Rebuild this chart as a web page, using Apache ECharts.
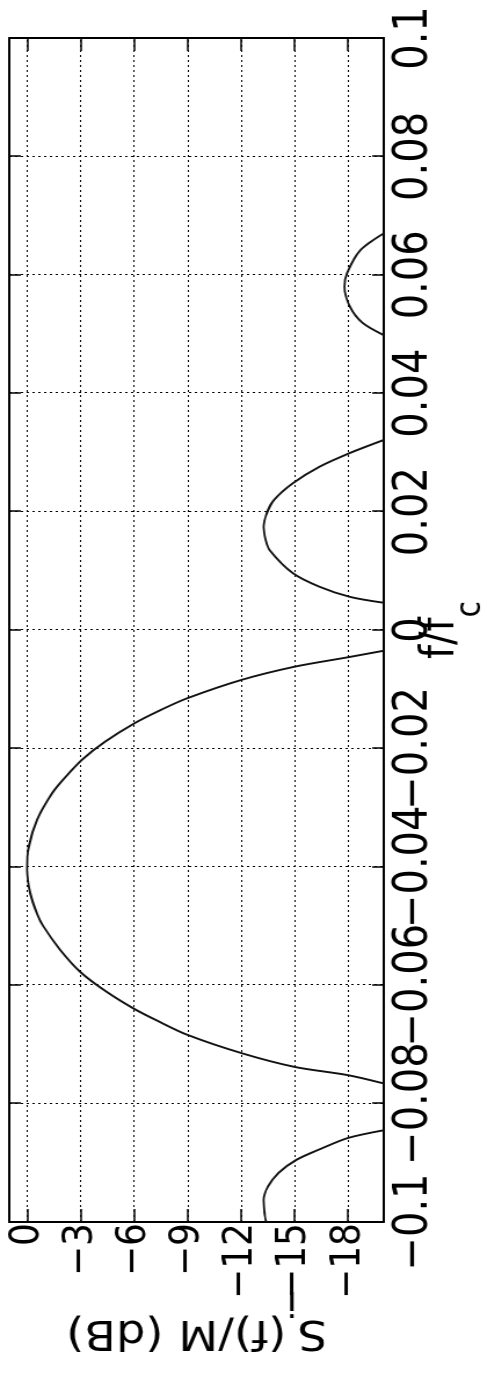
<!DOCTYPE html>
<html>
<head>
<meta charset="utf-8">
<script src="https://cdn.jsdelivr.net/npm/echarts@6/dist/echarts.min.js"></script>
<style>
  html, body { margin: 0; padding: 0; background: #fff; overflow: hidden; width: 487px; height: 1386px; }
  #page { position: absolute; left: 0; top: 0; width: 487px; height: 1386px; overflow: hidden; }
  /* the plot is laid out landscape and turned a quarter turn so f/fc runs upward */
  #chart {
    position: absolute; left: 0; top: 0;
    width: 1386px; height: 420px;
    transform-origin: 0 0;
    transform: translate(0px, 1386px) rotate(-90deg) scale(1, 1.1595);
  }
</style>
</head>
<body>
<div id="page"><div id="chart"></div></div>
<script>
// tick values of the level axis (dB)
const dbTicks = [0, -3, -6, -9, -12, -15, -18];

// spectrum lobes: [normalised frequency f/fc, level in dB]
const lobeLeft = [
  [-0.1, -13.4], [-0.0988, -13.33], [-0.0963, -13.26], [-0.094, -13.5],
  [-0.0917, -14.1], [-0.0895, -15.1], [-0.0876, -16.5], [-0.0858, -18.0], [-0.0845, -20]
];
const lobeMain = [
  [-0.0766, -20], [-0.0752, -18.0], [-0.0738, -15.0], [-0.0715, -12.05],
  [-0.0684, -9.0], [-0.066, -7.3], [-0.0639, -5.95], [-0.061, -4.4],
  [-0.0578, -3.0], [-0.054, -1.85], [-0.050, -0.9], [-0.048, -0.57],
  [-0.0444, -0.17], [-0.0405, 0], [-0.0367, -0.09], [-0.032, -0.57],
  [-0.0276, -1.4], [-0.025, -2.1], [-0.022, -3.05], [-0.0189, -4.35],
  [-0.0157, -6.05], [-0.0135, -7.5], [-0.0115, -9.0], [-0.0084, -12.05],
  [-0.0062, -15.0], [-0.0046, -18.0], [-0.0035, -20]
];
const lobeSide1 = [
  [0.0046, -20], [0.0056, -18.1], [0.0073, -16.4], [0.0096, -14.9],
  [0.0135, -13.6], [0.0152, -13.38], [0.0174, -13.26], [0.0198, -13.45],
  [0.022, -13.85], [0.0248, -14.9], [0.0276, -16.4], [0.0299, -18.1], [0.0321, -20]
];
const lobeSide2 = [
  [0.0498, -20], [0.0519, -18.8], [0.0546, -18.1], [0.058, -17.8],
  [0.0603, -17.95], [0.0642, -18.7], [0.067, -20]
];

const FONT = 'DejaVu Sans';
const INK = '#000';
const minusFmt = v => (v < 0 ? '\u2212' : '') + String(Math.abs(v));

const frameLine = { show: true, onZero: false, lineStyle: { color: INK, width: 2 } };
const gridDots = { show: true, lineStyle: { color: INK, width: 1, type: [2, 3] } };

function lobe(data) {
  return {
    type: 'line', data: data, xAxisIndex: 0, yAxisIndex: 0,
    showSymbol: false, symbol: 'none', smooth: 0.3,
    clip: true, silent: true, animation: false,
    lineStyle: { color: '#111', width: 1.9 }
  };
}

const chart = echarts.init(document.getElementById('chart'), null, { renderer: 'canvas' });
chart.setOption({
  animation: false,
  backgroundColor: '#fff',
  grid: { left: 164, right: 38, top: 8, bottom: 89, containLabel: false, outerBoundsMode: 'none' },
  xAxis: [
    {
      type: 'value', position: 'bottom', min: -0.1, max: 0.1, interval: 0.02,
      axisLine: frameLine,
      axisTick: { show: true, inside: true, length: 10, lineStyle: { color: INK, width: 1.5 } },
      axisLabel: { show: true, margin: 7, fontSize: 40, fontFamily: FONT, color: INK, formatter: minusFmt },
      splitLine: gridDots,
      name: '{m|f/f}{s|c}', nameLocation: 'middle', nameGap: 30, nameMoveOverlap: false,
      nameTextStyle: {
        fontFamily: FONT, color: INK, fontSize: 40,
        rich: {
          m: { fontFamily: FONT, color: INK, fontSize: 40, lineHeight: 40, verticalAlign: 'top' },
          s: { fontFamily: FONT, color: INK, fontSize: 30, lineHeight: 30, verticalAlign: 'top', padding: [30, 0, 0, 0] }
        }
      }
    },
    {
      type: 'value', position: 'top', min: -0.1, max: 0.1, interval: 0.02,
      axisLine: frameLine,
      axisTick: { show: true, inside: true, length: 10, lineStyle: { color: INK, width: 1.5 } },
      axisLabel: { show: false },
      splitLine: { show: false }
    }
  ],
  yAxis: [
    {
      type: 'value', position: 'left', min: -20, max: 1,
      axisLine: frameLine,
      axisTick: { show: true, inside: true, length: 13, customValues: dbTicks, lineStyle: { color: INK, width: 1.5 } },
      axisLabel: { show: true, margin: 1, fontSize: 36, fontFamily: FONT, color: INK, customValues: dbTicks, formatter: minusFmt },
      splitLine: gridDots,
      name: '{m|S}{s|i}{m|(f)/M (dB)}', nameLocation: 'middle', nameGap: 89, nameMoveOverlap: false,
      nameTextStyle: {
        fontFamily: FONT, color: INK, fontSize: 40,
        rich: {
          m: { fontFamily: FONT, color: INK, fontSize: 40, lineHeight: 40, verticalAlign: 'top' },
          s: { fontFamily: FONT, color: INK, fontSize: 34, lineHeight: 34, verticalAlign: 'top', padding: [33, 0, 0, 0] }
        }
      }
    },
    {
      type: 'value', position: 'right', min: -20, max: 1,
      axisLine: frameLine,
      axisTick: { show: true, inside: true, length: 13, customValues: dbTicks, lineStyle: { color: INK, width: 1.5 } },
      axisLabel: { show: false, customValues: dbTicks },
      splitLine: { show: false }
    }
  ],
  series: [lobe(lobeLeft), lobe(lobeMain), lobe(lobeSide1), lobe(lobeSide2)]
});
</script>
</body>
</html>
